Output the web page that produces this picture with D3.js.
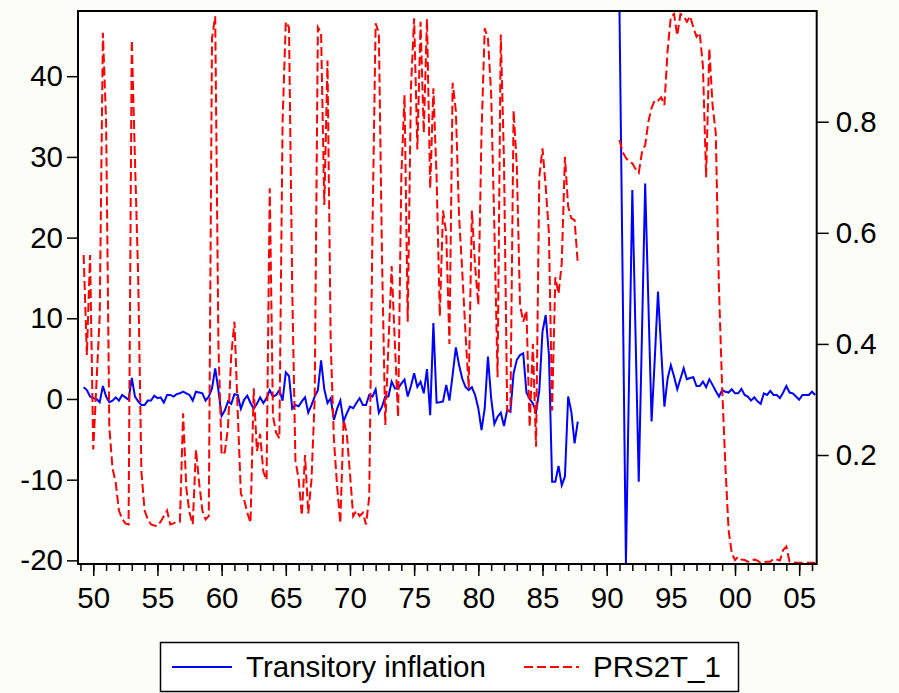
<!DOCTYPE html>
<html>
<head>
<meta charset="utf-8">
<script src="https://cdn.jsdelivr.net/npm/d3@7"></script>
<style>
  html, body { margin: 0; padding: 0; background: #fdfdf7; }
  svg { display: block; }
  text { font-family: "Liberation Sans", Arial, Helvetica, sans-serif; fill: #000; }
</style>
</head>
<body>
<svg id="chart" width="899" height="693"></svg>
<script>
// Quarterly observations. Segment one runs 1949Q2-1987Q4, segment two 1991Q1-2006Q2.
const segmentOneStart = 1949.25;
const segmentTwoStart = 1991.0;

// Transitory inflation (left axis)
const inflationOne = [
  1.45, 1.1, 0.3,
  0.1, 0.0, -0.4, 1.6,
  0.3, -0.4, -0.2, 0.2,
  -0.2, 0.5, 0.2, -0.1,
  2.6, 0.3, -0.3, -0.75,
  -0.75, -0.2, -0.2, 0.4,
  0.1, 0.2, -0.45, 0.5,
  0.5, 0.3, 0.6, 0.7,
  0.9, 0.7, 0.5, -0.2,
  0.9, 0.8, 0.7, -0.2,
  0.3, 1.3, 3.8, 1.1,
  -2.1, -1.4, -0.3, -0.6,
  0.6, 0.5, -1.2, -0.1,
  0.4, -0.5, -1.2, -0.6,
  0.2, -0.5, 0.1, 1.1,
  0.3, 0.5, 1.1, -0.2,
  3.3, 2.85, -1.2, -0.75,
  -0.9, -0.3, 0.2, -1.7,
  -0.75, 0.3, 1.1, 4.8,
  1.2, -0.5, 0.1, -2.6,
  -1.2, -0.2, -2.8, -1.8,
  -0.95, -1.15, -0.5, 0.1,
  -0.75, -0.75, 0.5, 0.3,
  1.2, -1.7, -0.95, 0.3,
  0.3, 2.15, 1.3, 1.3,
  1.9, 2.4, 0.3, 1.6,
  3.2, 1.5, 2.15, 0.7,
  3.7, -2.0, 9.4, -0.45,
  -0.4, -0.3, 1.75, -0.2,
  3.0, 6.4, 4.2, 2.5,
  1.5, 1.1, 1.45, 0.5,
  -1.15, -3.85, -1.15, 5.25,
  0.1, -3.1, -2.2, -1.7,
  -3.35, -1.35, -1.6, 3.2,
  4.85, 5.45, 5.65, 0.8,
  0.0, -0.55, -1.6, 1.0,
  8.35, 10.4, 5.5, -10.25,
  -10.25, -8.3, -10.7, -9.6,
  0.3, -1.6, -5.5, -2.8
];
const inflationTwo = [
  48.0, 14.0, -20.4, 3.0,
  25.9, 8.0, -10.25, 8.0,
  26.7, 12.0, -2.8, 5.0,
  13.3, 6.0, -0.95, 2.55,
  4.2, 2.8, 1.2, 2.5,
  3.8, 2.45, 2.6, 2.7,
  1.6, 1.6, 2.15, 1.45,
  2.45, 1.75, 1.0, 0.3,
  1.1, 0.9, 0.8, 1.2,
  0.7, 0.7, 1.25, 0.5,
  0.3, -0.2, 0.2, -0.3,
  -0.6, 0.7, 0.5, 1.0,
  0.5, 0.5, 0.1, 0.8,
  1.6, 0.8, 0.7, 0.3,
  -0.1, 0.5, 0.5, 0.5,
  0.9, 0.5
];

// PRS2T_1 (right axis)
const prsOne = [
  0.56, 0.38, 0.56,
  0.21, 0.33, 0.45, 0.96,
  0.80, 0.25, 0.176, 0.15,
  0.10, 0.085, 0.077, 0.075,
  0.947, 0.73, 0.52, 0.17,
  0.10, 0.084, 0.075, 0.073,
  0.072, 0.08, 0.09, 0.10,
  0.075, 0.077, 0.08, 0.08,
  0.275, 0.14, 0.096, 0.075,
  0.21, 0.15, 0.10, 0.084,
  0.09, 0.95, 0.99, 0.40,
  0.20, 0.205, 0.25, 0.38,
  0.44, 0.28, 0.13, 0.12,
  0.096, 0.078, 0.32, 0.207,
  0.238, 0.17, 0.155, 0.68,
  0.27, 0.24, 0.23, 0.80,
  0.98, 0.97, 0.50, 0.19,
  0.157, 0.091, 0.20, 0.095,
  0.155, 0.30, 0.97, 0.96,
  0.65, 0.91, 0.40, 0.227,
  0.143, 0.077, 0.263, 0.239,
  0.167, 0.09, 0.10, 0.09,
  0.096, 0.075, 0.124, 0.60,
  0.977, 0.96, 0.55, 0.254,
  0.40, 0.54, 0.40, 0.268,
  0.70, 0.848, 0.44, 0.86,
  0.986, 0.75, 0.98, 0.78,
  0.985, 0.68, 0.86, 0.70,
  0.45, 0.64, 0.60, 0.40,
  0.87, 0.82, 0.63, 0.53,
  0.42, 0.32, 0.64, 0.54,
  0.47, 0.78, 0.968, 0.95,
  0.85, 0.61, 0.34, 0.957,
  0.73, 0.28, 0.28, 0.82,
  0.72, 0.47, 0.44, 0.46,
  0.25, 0.40, 0.215, 0.70,
  0.752, 0.683, 0.60, 0.28,
  0.52, 0.49, 0.545, 0.737,
  0.647, 0.626, 0.623, 0.545
];
const prsTwo = [
  0.767, 0.745, 0.735, 0.728,
  0.725, 0.715, 0.708, 0.745,
  0.758, 0.80, 0.825, 0.839,
  0.838, 0.844, 0.83, 0.929,
  0.989, 0.994, 0.955, 0.994,
  0.99, 0.98, 0.99, 0.97,
  0.953, 0.96, 0.90, 0.70,
  0.932, 0.83, 0.78, 0.50,
  0.32, 0.18, 0.065, 0.023,
  0.011, 0.017, 0.012, 0.011,
  0.008, 0.008, 0.012, 0.010,
  0.006, 0.007, 0.008, 0.008,
  0.013, 0.012, 0.010, 0.029,
  0.035, 0.008, 0.007, 0.006,
  0.006, 0.006, 0.006, 0.006,
  0.006, 0.006
];

// Axis ticks and labels
const leftTicks = [-20, -10, 0, 10, 20, 30, 40];
const rightTicks = [0.2, 0.4, 0.6, 0.8];
const majorYears = [1950, 1955, 1960, 1965, 1970, 1975, 1980, 1985, 1990, 1995, 2000, 2005];
const majorYearLabels = ["50", "55", "60", "65", "70", "75", "80", "85", "90", "95", "00", "05"];
const minorYears = d3.range(1949, 2007);
const seriesNames = ["Transitory inflation", "PRS2T_1"];
const seriesColors = ["#0000ff", "#ff0000"];

// Turn a value array into dated points, one per quarter.
function quarterly(start, values) {
  return values.map((v, i) => ({ t: start + i * 0.25, v }));
}

const inflationData = [quarterly(segmentOneStart, inflationOne), quarterly(segmentTwoStart, inflationTwo)];
const prsData = [quarterly(segmentOneStart, prsOne), quarterly(segmentTwoStart, prsTwo)];

const plot = { left: 78, right: 816.7, top: 11, bottom: 564 };
const svg = d3.select("#chart");
const fontSize = 29.5;

const x = d3.scaleLinear().domain([1948.81, 2006.365]).range([plot.left, plot.right]);
const yLeft = d3.scaleLinear().domain([-20.45, 48.08]).range([plot.bottom, plot.top]);
const yRight = d3.scaleLinear().domain([0.0038, 0.9993]).range([plot.bottom, plot.top]);

// Plot background
svg.append("rect")
  .attr("x", plot.left).attr("y", plot.top)
  .attr("width", plot.right - plot.left).attr("height", plot.bottom - plot.top)
  .attr("fill", "#ffffff");

svg.append("clipPath").attr("id", "plot-clip")
  .append("rect")
  .attr("x", plot.left).attr("y", plot.top)
  .attr("width", plot.right - plot.left).attr("height", plot.bottom - plot.top);

const lines = svg.append("g").attr("clip-path", "url(#plot-clip)");

const inflationLine = d3.line().x(d => x(d.t)).y(d => yLeft(d.v));
const prsLine = d3.line().x(d => x(d.t)).y(d => yRight(d.v));

inflationData.forEach(seg => {
  lines.append("path")
    .attr("d", inflationLine(seg))
    .attr("fill", "none")
    .attr("stroke", seriesColors[0])
    .attr("stroke-width", 2)
    .attr("stroke-linejoin", "miter");
});

prsData.forEach(seg => {
  lines.append("path")
    .attr("d", prsLine(seg))
    .attr("fill", "none")
    .attr("stroke", seriesColors[1])
    .attr("stroke-width", 2)
    .attr("stroke-dasharray", "9,4");
});

// Frame
svg.append("rect")
  .attr("x", plot.left).attr("y", plot.top)
  .attr("width", plot.right - plot.left).attr("height", plot.bottom - plot.top)
  .attr("fill", "none").attr("stroke", "#000").attr("stroke-width", 2);

function styleAxis(g) {
  g.select(".domain").remove();
  g.selectAll(".tick line").attr("stroke", "#000").attr("stroke-width", 1.5);
  g.selectAll(".tick text")
    .attr("font-size", fontSize)
    .attr("font-family", "'Liberation Sans', Arial, sans-serif")
    .attr("fill", "#000");
}

// Left axis (plain hyphen for negatives)
svg.append("g")
  .attr("transform", `translate(${plot.left},0)`)
  .call(d3.axisLeft(yLeft).tickValues(leftTicks).tickSize(11).tickPadding(4).tickFormat(d => String(d)))
  .call(styleAxis);

// Right axis
svg.append("g")
  .attr("transform", `translate(${plot.right},0)`)
  .call(d3.axisRight(yRight).tickValues(rightTicks).tickSize(12).tickPadding(7).tickFormat(d => d.toFixed(1)))
  .call(styleAxis);

// Bottom axis: yearly minor ticks, five-year labelled ticks
svg.append("g")
  .attr("transform", `translate(0,${plot.bottom})`)
  .call(d3.axisBottom(x).tickValues(minorYears).tickSize(7).tickFormat(""))
  .call(styleAxis);

svg.append("g")
  .attr("transform", `translate(0,${plot.bottom})`)
  .call(d3.axisBottom(x).tickValues(majorYears).tickSize(12).tickPadding(11)
    .tickFormat((d, i) => majorYearLabels[i]))
  .call(styleAxis);

// Legend
const legend = svg.append("g");
legend.append("rect")
  .attr("x", 160.5).attr("y", 642.5).attr("width", 578).attr("height", 49)
  .attr("fill", "#ffffff").attr("stroke", "#000").attr("stroke-width", 1.5);

const legendY = 667;
legend.append("line")
  .attr("x1", 172).attr("x2", 232).attr("y1", legendY).attr("y2", legendY)
  .attr("stroke", seriesColors[0]).attr("stroke-width", 2);
legend.append("text")
  .attr("x", 246).attr("y", legendY).attr("dy", "0.35em")
  .attr("font-size", fontSize).text(seriesNames[0]);

legend.append("line")
  .attr("x1", 524).attr("x2", 579).attr("y1", legendY).attr("y2", legendY)
  .attr("stroke", seriesColors[1]).attr("stroke-width", 2)
  .attr("stroke-dasharray", "9,4");
legend.append("text")
  .attr("x", 593).attr("y", legendY).attr("dy", "0.35em")
  .attr("font-size", fontSize).text(seriesNames[1]);
</script>
</body>
</html>
